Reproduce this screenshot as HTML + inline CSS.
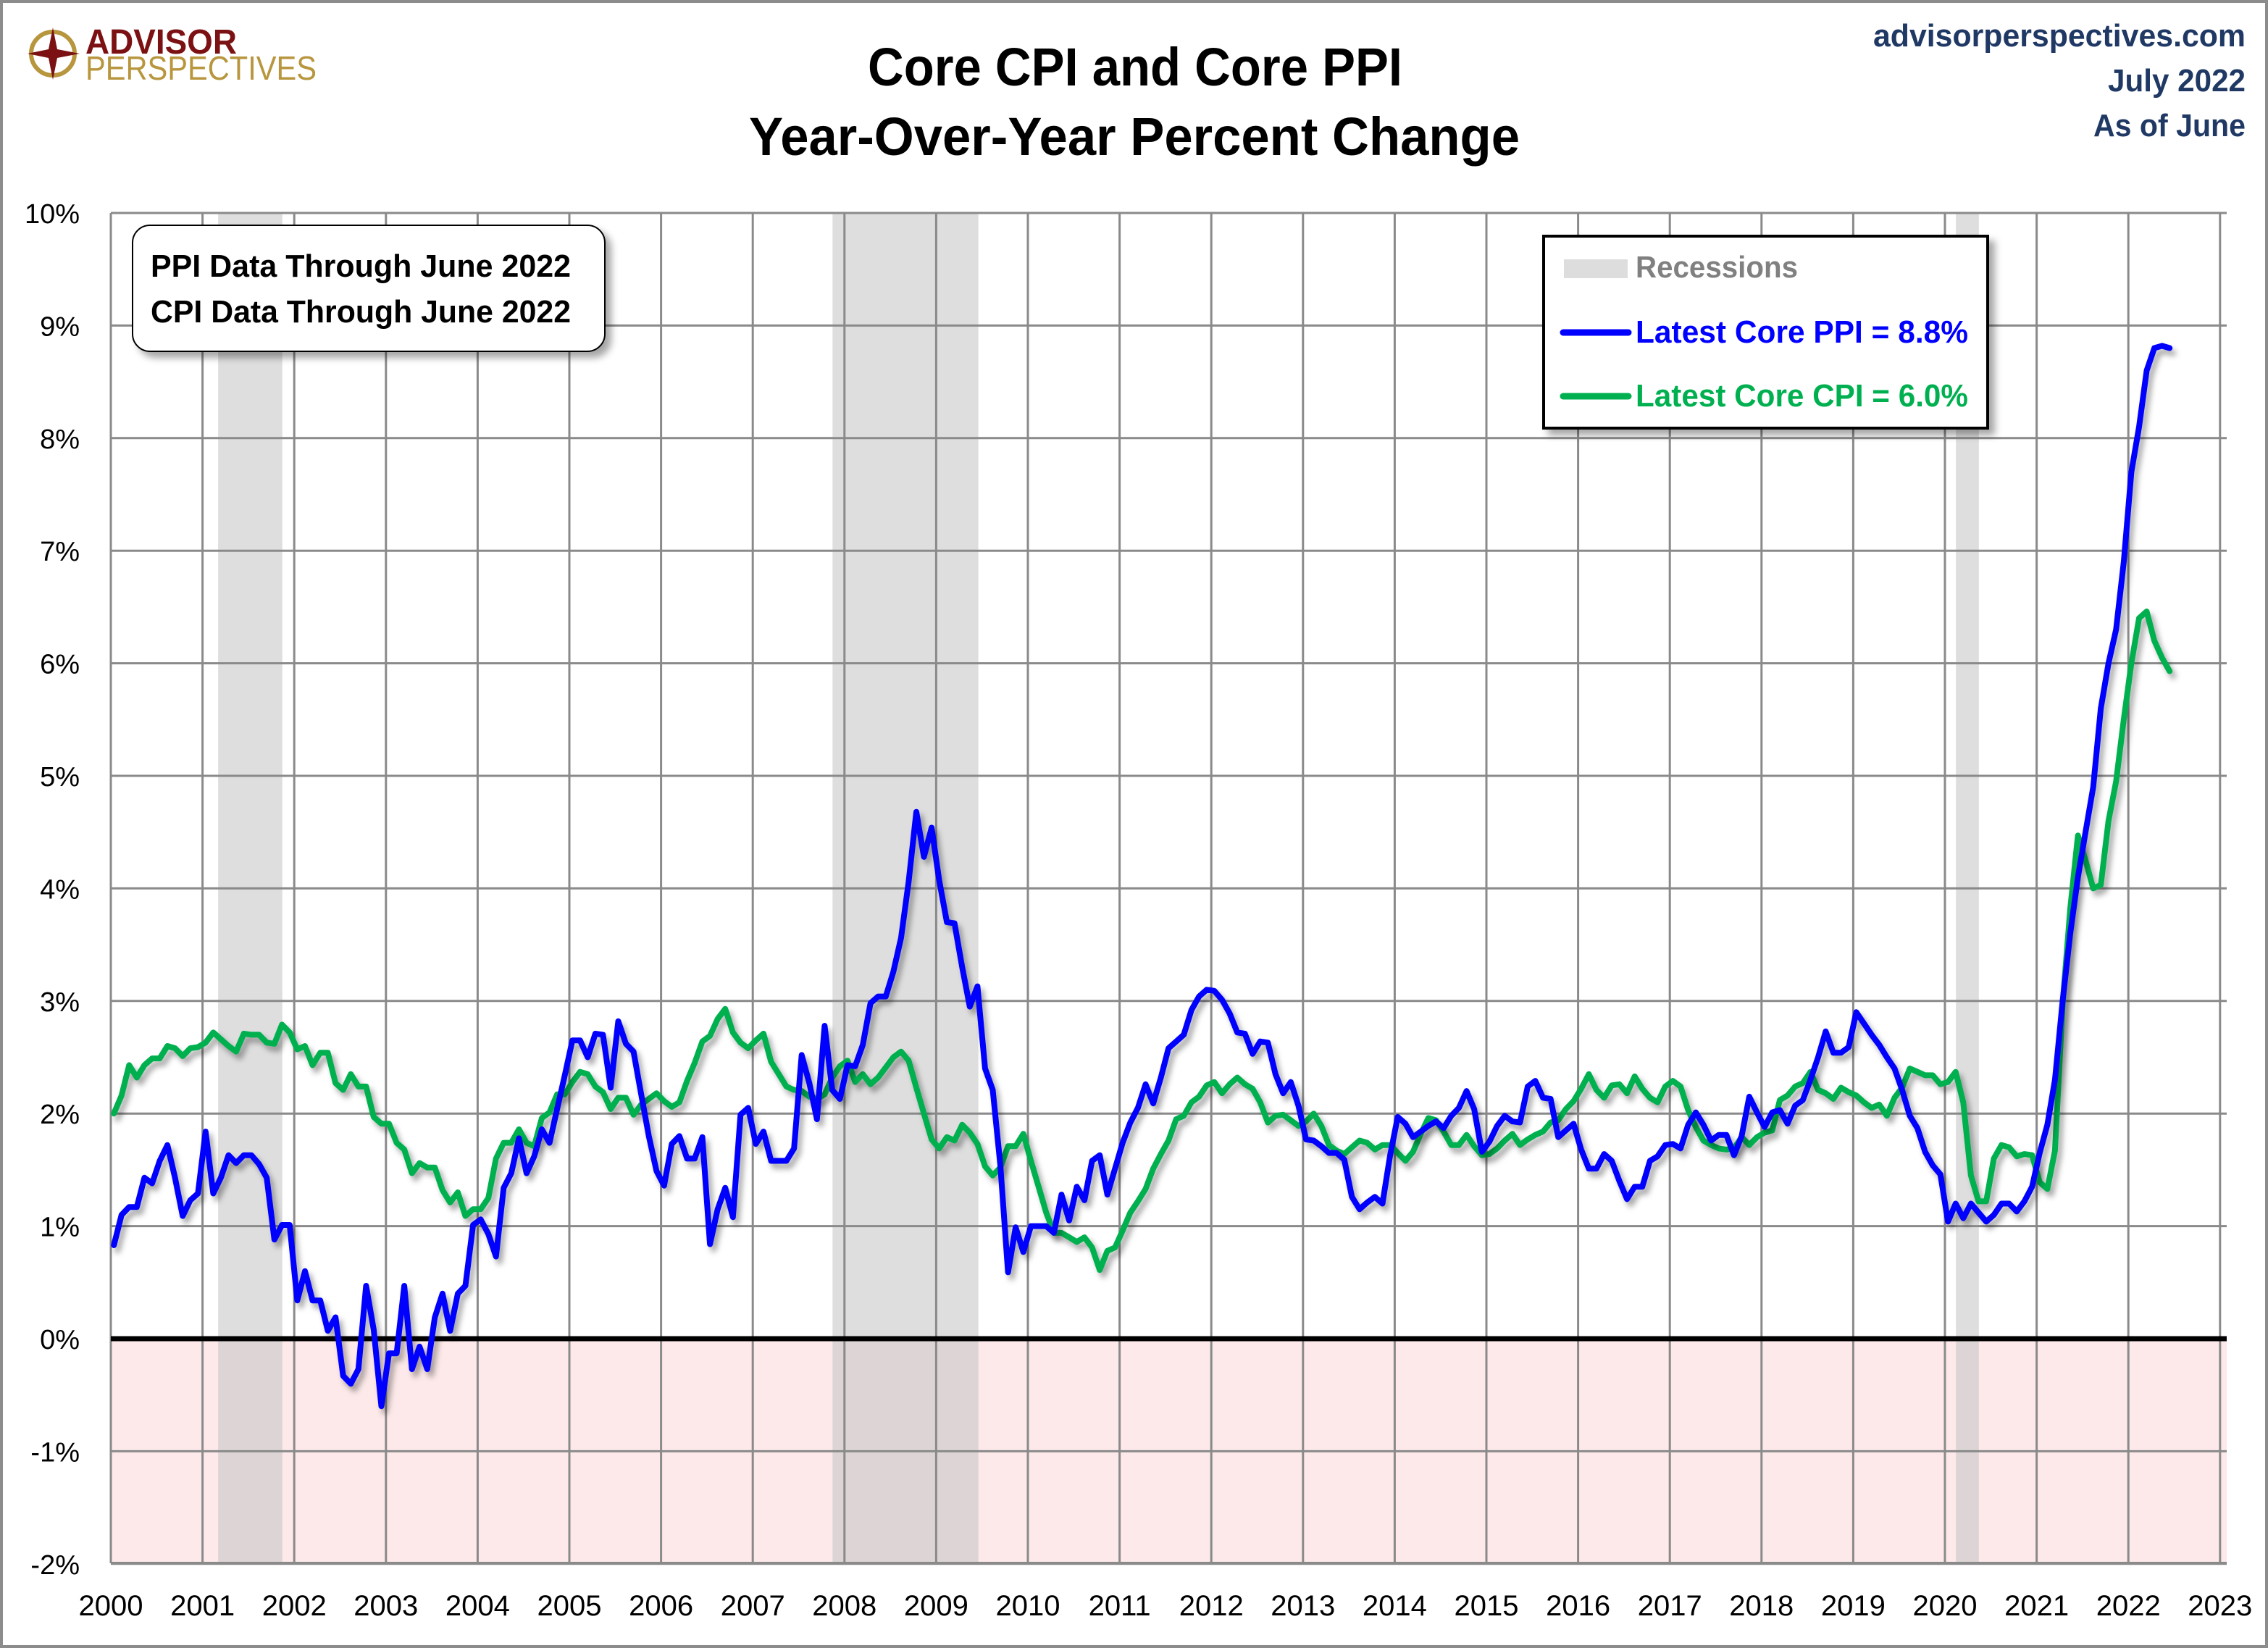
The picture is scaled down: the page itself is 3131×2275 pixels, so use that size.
<!DOCTYPE html>
<html><head><meta charset="utf-8"><style>
html,body{margin:0;padding:0;background:#fff;}
svg{display:block;font-family:"Liberation Sans",sans-serif;}
</style></head><body>
<svg id="chart" width="3131" height="2275" viewBox="0 0 3131 2275" xmlns="http://www.w3.org/2000/svg">
<defs>
<filter id="sh" x="-5%" y="-5%" width="110%" height="115%"><feDropShadow dx="5" dy="7" stdDeviation="4" flood-color="#000" flood-opacity="0.35"/></filter>
<filter id="bsh" x="-5%" y="-5%" width="115%" height="120%"><feDropShadow dx="8" dy="8" stdDeviation="5" flood-color="#000" flood-opacity="0.35"/></filter>
</defs>
<rect x="2" y="2" width="3127" height="2271" fill="#fff" stroke="#8c8c8c" stroke-width="4"/>
<g id="logo">
<circle cx="73" cy="74" r="30" fill="none" stroke="#B8963E" stroke-width="6"/>
<polygon points="73,38 79,68 110,74 79,80 73,110 67,80 38,74 67,68" fill="#7B1113"/>
<text x="118" y="74" font-size="48" font-weight="bold" fill="#7B1113" textLength="209" lengthAdjust="spacingAndGlyphs">ADVISOR</text>
<text x="118" y="110" font-size="46" fill="#B8963E" textLength="319" lengthAdjust="spacingAndGlyphs">PERSPECTIVES</text>
</g>
<text x="1567" y="118" font-size="74" font-weight="bold" text-anchor="middle" textLength="738" lengthAdjust="spacingAndGlyphs">Core CPI and Core PPI</text>
<text x="1566" y="214" font-size="74" font-weight="bold" text-anchor="middle" textLength="1064" lengthAdjust="spacingAndGlyphs">Year-Over-Year Percent Change</text>
<text x="3100" y="64" font-size="44" font-weight="bold" fill="#1F3864" text-anchor="end" textLength="514" lengthAdjust="spacingAndGlyphs">advisorperspectives.com</text>
<text x="3100" y="126" font-size="44" font-weight="bold" fill="#1F3864" text-anchor="end" textLength="190" lengthAdjust="spacingAndGlyphs">July 2022</text>
<text x="3100" y="188" font-size="44" font-weight="bold" fill="#1F3864" text-anchor="end" textLength="210" lengthAdjust="spacingAndGlyphs">As of June</text>
<g id="plot"></g>
<g id="annot">
<rect x="183" y="311" width="652" height="174" rx="24" ry="24" fill="#fff" stroke="#000" stroke-width="2" filter="url(#bsh)"/>
<text x="208" y="382" font-size="44" font-weight="bold" textLength="580" lengthAdjust="spacingAndGlyphs">PPI Data Through June 2022</text>
<text x="208" y="445" font-size="44" font-weight="bold" textLength="580" lengthAdjust="spacingAndGlyphs">CPI Data Through June 2022</text>
</g>
<g id="legend">
<rect x="2131" y="326" width="613" height="265" fill="#fff" stroke="#000" stroke-width="4" filter="url(#bsh)"/>
<rect x="2159" y="358" width="88" height="26" fill="#dddddd"/>
<text x="2258" y="383" font-size="42" font-weight="bold" fill="#808080" textLength="224" lengthAdjust="spacingAndGlyphs">Recessions</text>
<line x1="2158" y1="459" x2="2248" y2="459" stroke="#0000FF" stroke-width="9" stroke-linecap="round"/>
<text x="2258" y="473" font-size="44" font-weight="bold" fill="#0000FF" textLength="459" lengthAdjust="spacingAndGlyphs">Latest Core PPI = 8.8%</text>
<line x1="2158" y1="547" x2="2248" y2="547" stroke="#00B050" stroke-width="9" stroke-linecap="round"/>
<text x="2258" y="561" font-size="44" font-weight="bold" fill="#00B050" textLength="459" lengthAdjust="spacingAndGlyphs">Latest Core CPI = 6.0%</text>
</g>
</svg>
<script>
const ppiValues = [
0.83,1.10,1.17,1.17,1.43,1.38,1.58,1.72,1.43,1.09,1.23,1.29,
1.84,1.29,1.43,1.63,1.56,1.63,1.63,1.55,1.43,0.88,1.01,1.01,
0.34,0.60,0.34,0.34,0.07,0.19,-0.33,-0.40,-0.27,0.47,0.08,-0.60,
-0.13,-0.13,0.47,-0.27,-0.07,-0.27,0.19,0.40,0.07,0.40,0.47,1.01,
1.06,0.93,0.73,1.34,1.47,1.78,1.47,1.62,1.86,1.74,2.04,2.34,
2.65,2.65,2.50,2.71,2.70,2.23,2.82,2.62,2.55,2.17,1.80,1.49,
1.36,1.73,1.80,1.60,1.60,1.79,0.84,1.15,1.34,1.08,1.99,2.05,
1.73,1.84,1.58,1.58,1.58,1.69,2.52,2.27,1.95,2.78,2.21,2.13,
2.43,2.42,2.61,2.98,3.04,3.04,3.26,3.56,4.06,4.68,4.28,4.54,
4.07,3.70,3.69,3.30,2.95,3.13,2.40,2.21,1.54,0.59,0.99,0.77,
1.00,1.00,1.00,0.94,1.28,1.05,1.35,1.23,1.58,1.63,1.28,1.51,
1.74,1.92,2.05,2.26,2.09,2.32,2.58,2.64,2.70,2.92,3.04,3.10,
3.09,3.01,2.89,2.72,2.71,2.53,2.64,2.63,2.35,2.18,2.28,2.07,
1.77,1.76,1.71,1.65,1.65,1.59,1.26,1.15,1.21,1.26,1.20,1.63,
1.97,1.91,1.79,1.84,1.89,1.93,1.87,1.98,2.05,2.20,2.04,1.66,
1.75,1.89,1.98,1.93,1.92,2.24,2.29,2.14,2.13,1.79,1.85,1.91,
1.68,1.51,1.51,1.64,1.58,1.40,1.24,1.35,1.35,1.58,1.62,1.72,
1.73,1.69,1.90,2.01,1.90,1.76,1.81,1.81,1.63,1.80,2.15,2.01,
1.88,2.01,2.03,1.91,2.07,2.12,2.30,2.50,2.73,2.54,2.54,2.59,
2.90,2.80,2.70,2.61,2.50,2.40,2.21,1.98,1.87,1.66,1.54,1.46,
1.04,1.20,1.07,1.20,1.12,1.04,1.10,1.20,1.20,1.13,1.22,1.35,
1.65,1.90,2.30,3.00,3.60,4.10,4.50,4.90,5.60,6.00,6.30,6.90,
7.70,8.10,8.60,8.80,8.82,8.80];
const cpiValues = [
2.00,2.16,2.43,2.32,2.43,2.49,2.49,2.60,2.58,2.51,2.58,2.59,
2.63,2.72,2.66,2.60,2.55,2.71,2.70,2.70,2.63,2.62,2.79,2.72,
2.57,2.60,2.43,2.54,2.54,2.27,2.21,2.35,2.24,2.24,1.97,1.91,
1.91,1.74,1.68,1.47,1.56,1.52,1.52,1.32,1.21,1.30,1.09,1.15,
1.15,1.25,1.60,1.74,1.74,1.86,1.74,1.71,1.96,2.01,2.17,2.17,
2.28,2.37,2.35,2.24,2.19,2.04,2.14,2.14,1.99,2.08,2.13,2.18,
2.11,2.06,2.10,2.29,2.45,2.64,2.69,2.84,2.93,2.72,2.63,2.58,
2.65,2.71,2.46,2.35,2.24,2.21,2.20,2.15,2.13,2.17,2.32,2.42,
2.47,2.28,2.35,2.26,2.32,2.41,2.50,2.55,2.47,2.23,2.00,1.77,
1.69,1.79,1.76,1.90,1.83,1.73,1.53,1.45,1.52,1.71,1.71,1.82,
1.58,1.35,1.12,0.94,0.94,0.90,0.86,0.90,0.81,0.61,0.78,0.81,
0.96,1.12,1.22,1.33,1.51,1.64,1.76,1.95,1.98,2.10,2.15,2.25,
2.28,2.18,2.26,2.32,2.26,2.22,2.10,1.92,1.98,1.99,1.94,1.89,
1.93,2.00,1.89,1.72,1.67,1.64,1.70,1.76,1.74,1.68,1.72,1.72,
1.65,1.58,1.66,1.82,1.96,1.94,1.84,1.72,1.72,1.81,1.71,1.63,
1.64,1.69,1.76,1.82,1.72,1.77,1.81,1.84,1.92,1.94,2.04,2.11,
2.22,2.35,2.21,2.14,2.25,2.26,2.18,2.33,2.22,2.14,2.10,2.24,
2.29,2.24,2.03,1.88,1.76,1.72,1.69,1.68,1.69,1.79,1.72,1.79,
1.83,1.85,2.12,2.16,2.24,2.27,2.37,2.21,2.18,2.13,2.23,2.19,
2.16,2.10,2.05,2.08,1.98,2.14,2.23,2.40,2.37,2.34,2.34,2.26,
2.28,2.37,2.10,1.45,1.22,1.22,1.60,1.72,1.70,1.62,1.64,1.63,
1.39,1.33,1.67,2.97,3.82,4.47,4.25,4.00,4.03,4.60,4.95,5.50,
6.00,6.40,6.46,6.20,6.05,5.93];
const startYear = 2000;
const yearTicks = [2000,2001,2002,2003,2004,2005,2006,2007,2008,2009,2010,2011,2012,2013,2014,2015,2016,2017,2018,2019,2020,2021,2022,2023];
const pctTicks = [-2,-1,0,1,2,3,4,5,6,7,8,9,10];
const recessionStarts = [2001.17, 2007.87, 2020.12];
const recessionEnds = [2001.87, 2009.46, 2020.37];

const NS = "http://www.w3.org/2000/svg";
const PL = 153, PR = 3074, PT = 294, PB = 2158;
function xs(t){ return 153 + (t - 2000) * 126.6; }
function ys(v){ return 1848 - v * 155.4; }
function mk(tag, attrs, parent){ const e = document.createElementNS(NS, tag); for (const k in attrs) e.setAttribute(k, attrs[k]); parent.appendChild(e); return e; }
const plot = document.getElementById('plot');

const neg = mk('rect', {x:PL, y:ys(0), width:PR-PL, height:PB-ys(0), fill:'#FDE9E9'}, plot);



for (let i = 0; i < recessionStarts.length; i++) {
  const r = mk('rect', {x:xs(recessionStarts[i]), y:PT, width:xs(recessionEnds[i]) - xs(recessionStarts[i]), height:PB-PT, fill:'#c8c8c8', 'fill-opacity':'0.6'}, plot);
  
  
}

pctTicks.forEach(v => {
  const y = ys(v);
  if (v !== 0) {
    const g = mk('line', {x1:PL, y1:y, x2:PR, y2:y, stroke:'#8a8a8a', 'stroke-width':3}, plot);
    
    
  }
  const t = mk('text', {x:110, y:y+14, 'font-size':38, 'text-anchor':'end', fill:'#000'}, plot);
  t.textContent = v + '%';
  
  
});

yearTicks.forEach(yr => {
  const x = xs(yr);
  const g = mk('line', {x1:x, y1:PT, x2:x, y2:PB, stroke:'#8a8a8a', 'stroke-width':3}, plot);
  
  
  const t = mk('text', {x:x, y:2230, 'font-size':40, 'text-anchor':'middle', fill:'#000'}, plot);
  t.textContent = String(yr);
  
  
});

const lft = mk('line', {x1:PL, y1:PT, x2:PL, y2:PB, stroke:'#8a8a8a', 'stroke-width':3}, plot);


const bot = mk('line', {x1:PL, y1:PB, x2:PR, y2:PB, stroke:'#8a8a8a', 'stroke-width':4}, plot);



const zl = mk('line', {x1:PL, y1:ys(0), x2:PR, y2:ys(0), stroke:'#000', 'stroke-width':7}, plot);



function series(vals, color, name){
  const pts = vals.map((v, i) => xs(startYear + (i + 0.4) / 12).toFixed(1) + ',' + ys(v).toFixed(1)).join(' ');
  const p = mk('polyline', {points:pts, fill:'none', stroke:color, 'stroke-width':8, 'stroke-linejoin':'round', 'stroke-linecap':'round', filter:'url(#sh)'}, plot);
  
  
}
series(cpiValues, '#00B050', 'core-cpi-line');
series(ppiValues, '#0000FF', 'core-ppi-line');
</script>
</body></html>
